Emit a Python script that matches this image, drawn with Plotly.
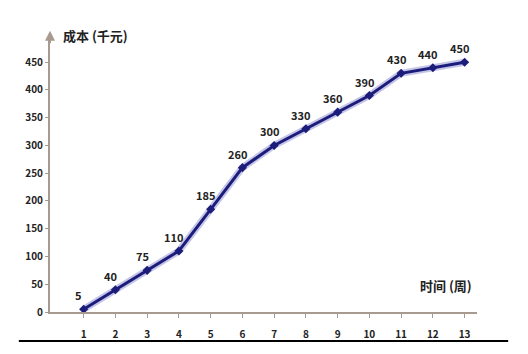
import plotly.graph_objects as go

weeks = [1, 2, 3, 4, 5, 6, 7, 8, 9, 10, 11, 12, 13]
cost = [5, 40, 75, 110, 185, 260, 300, 330, 360, 390, 430, 440, 450]
y_ticks = [0, 50, 100, 150, 200, 250, 300, 350, 400, 450]

FONT = "Noto Sans CJK SC, Liberation Sans, sans-serif"
AXIS_COLOR = "#a89a8e"

fig = go.Figure()
# soft halo under the line
fig.add_trace(go.Scatter(x=weeks, y=cost, mode="lines",
                         line=dict(color="rgba(90,90,190,0.35)", width=7),
                         hoverinfo="skip", showlegend=False))
fig.add_trace(go.Scatter(x=weeks, y=cost, mode="lines+markers",
                         line=dict(color="#1c1c7a", width=3),
                         marker=dict(symbol="diamond", size=7, color="#1c1c7a"),
                         showlegend=False))

for xv, yv in zip(weeks, cost):
    fig.add_annotation(x=xv, y=yv, text=f"<b>{yv}</b>", showarrow=False,
                       xshift=-5, yshift=14,
                       font=dict(family=FONT, size=11, color="#222"))

fig.add_annotation(xref="paper", yref="paper", x=0.025, y=1.0, xanchor="left", yanchor="middle",
                   text="<b>成本 (千元)</b>", showarrow=False,
                   font=dict(family=FONT, size=13, color="#222"))
fig.add_annotation(x=13.3, y=48, xanchor="right", yanchor="middle",
                   text="<b>时间 (周)</b>", showarrow=False,
                   font=dict(family=FONT, size=13, color="#222"))
# arrow head on the y axis
fig.add_annotation(xref="paper", yref="paper", x=0.0, y=1.015, ax=0, ay=14,
                   showarrow=True, arrowhead=2,
                   arrowsize=1, arrowwidth=2, arrowcolor=AXIS_COLOR, text="")

fig.add_shape(type="line", xref="paper", yref="paper", x0=-0.073, x1=1.073, y0=-0.105, y1=-0.105,
              line=dict(color="#000", width=2))

fig.update_layout(
    width=528, height=354,
    margin=dict(l=50, r=51, t=35, b=42),
    paper_bgcolor="white", plot_bgcolor="white",
    xaxis=dict(range=[-0.06, 13.39], tickvals=weeks, ticktext=[f"<b>{w}</b>" for w in weeks],
               showgrid=False, zeroline=False, showline=True, linecolor=AXIS_COLOR, linewidth=2,
               ticks="outside", ticklen=4, tickcolor=AXIS_COLOR, ticklabelstandoff=8,
               tickfont=dict(family=FONT, size=10, color="#222")),
    yaxis=dict(range=[0, 499], tickvals=y_ticks, ticktext=[f"<b>{t}</b>" for t in y_ticks],
               showgrid=False, zeroline=False, showline=True, linecolor=AXIS_COLOR, linewidth=2,
               ticks="outside", ticklen=3, tickcolor=AXIS_COLOR,
               tickfont=dict(family=FONT, size=10, color="#222")),
)

fig.write_html("out.html")
